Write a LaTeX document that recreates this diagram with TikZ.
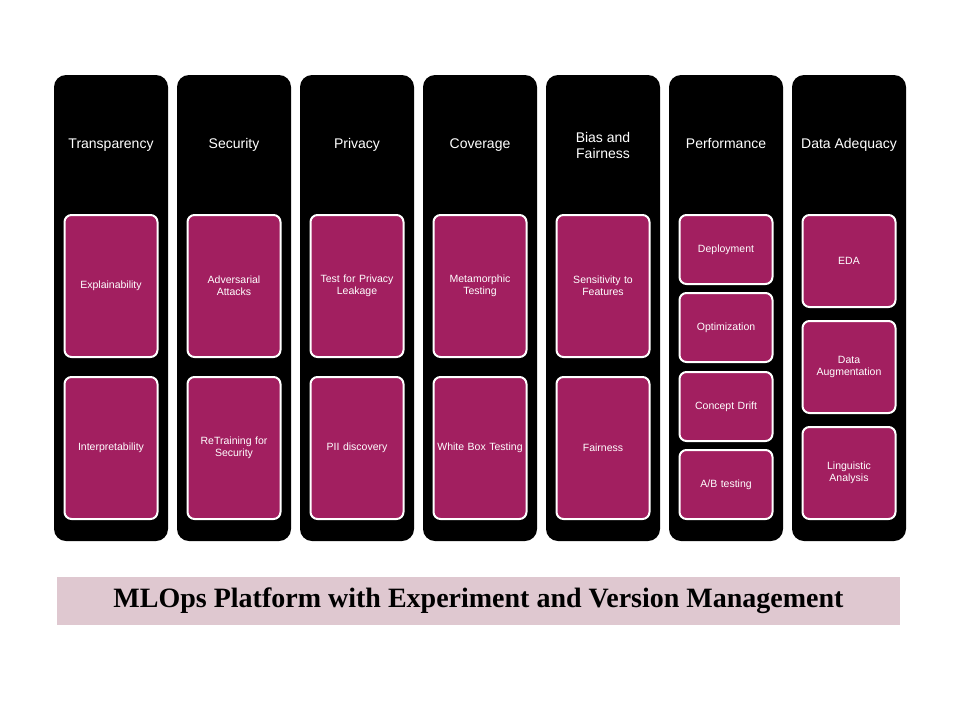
\documentclass[tikz,border=0pt]{standalone}
\usepackage{fontspec}
\setmainfont{Liberation Sans}
\newfontfamily\bandfont{Liberation Serif}
\usetikzlibrary{positioning}
\definecolor{plum}{HTML}{A21F60}
\definecolor{bandpink}{HTML}{DFC8D0}
\tikzstyle{pillar}=[rectangle,rounded corners=12pt,fill=black,minimum width=114pt,minimum height=466pt,inner sep=0pt]
\tikzstyle{heading}=[text=white,align=center,font=\fontsize{14}{15.5}\selectfont]
\tikzstyle{cell}=[rectangle,rounded corners=7pt,fill=plum,draw=white,line width=2pt,minimum width=93pt,text width=91pt,align=center,inner sep=0pt,text=white,font=\fontsize{10.5}{12}\selectfont]

\begin{document}
\begin{tikzpicture}[x=1pt,y=-1pt]

   \useasboundingbox (0,0) rectangle (960,720);
   \fill[white] (0,0) rectangle (960,720);

    % the seven pillars
    \foreach \i/\name/\title in {0/transp/Transparency, 1/secur/Security, 2/priv/Privacy, 3/cover/Coverage, 4/bias/{Bias and\\Fairness}, 5/perf/Performance, 6/adeq/Data Adequacy}
    {
        \node[pillar] (\name) at (111+123*\i, 308) {};
        \node[heading] (\name-head) at (111+123*\i, 145) {\strut\title};
    }

    % two tall cells per pillar
    \foreach \i/\name/\upper/\lower in {0/transp/Explainability/Interpretability, 1/secur/{Adversarial\\Attacks}/{ReTraining for\\Security}, 2/priv/{Test for Privacy\\Leakage}/PII  discovery, 3/cover/{Metamorphic\\Testing}/White Box Testing, 4/bias/{Sensitivity to\\Features}/Fairness}
    {
        \node[cell,minimum height=142pt] (\name-a) at (111+123*\i, 286) {\upper};
        \node[cell,minimum height=142pt] (\name-b) at (111+123*\i, 448) {\lower};
    }

    % performance
    \foreach \y/\name/\text in {249.5/deploy/Deployment, 327.5/optim/Optimization, 406.5/drift/Concept Drift, 484.5/abtest/{A/B testing}}
        \node[cell,minimum height=69pt] (\name) at (726, \y) {\text};

    % data adequacy
    \foreach \y/\name/\text in {261/eda/EDA, 367/augm/{Data\\Augmentation}, 473/ling/{Linguistic\\Analysis}}
        \node[cell,minimum height=92pt] (\name) at (849, \y) {\text};

    % platform band
    \node[rectangle,fill=bandpink,minimum width=843pt,minimum height=48pt,inner sep=0pt,font=\bandfont\bfseries\fontsize{28}{30}\selectfont] (band) at (478.5, 601) {MLOps Platform with Experiment and Version Management};

\end{tikzpicture}
\end{document}
